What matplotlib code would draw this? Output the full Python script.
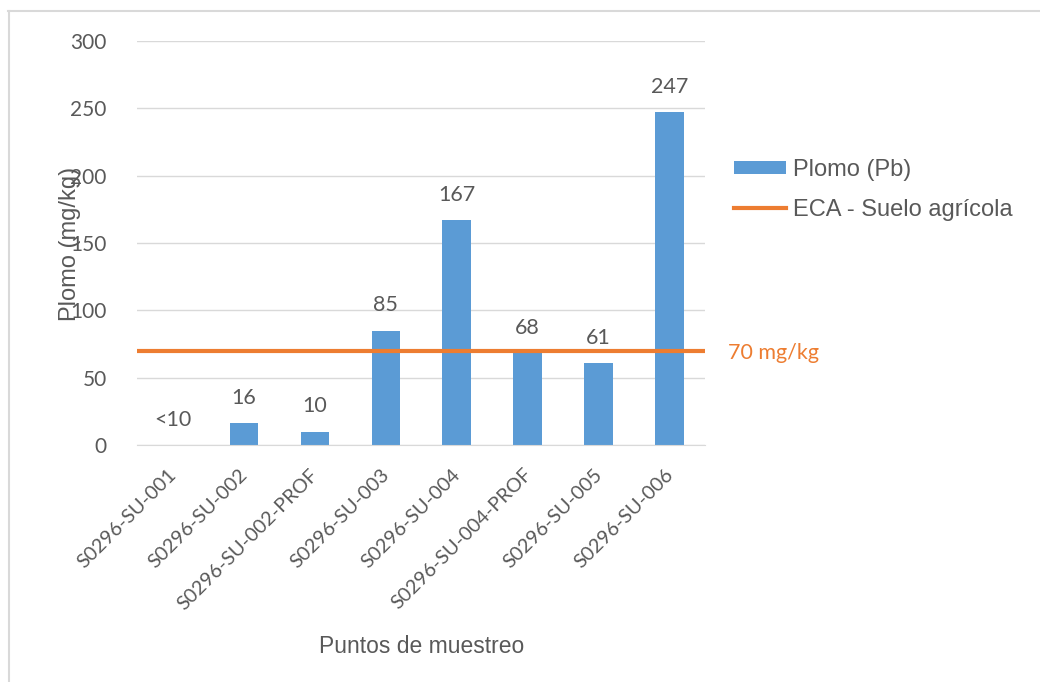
import matplotlib
matplotlib.use("Agg")
import matplotlib.pyplot as plt
import matplotlib.transforms as mtrans
from matplotlib.lines import Line2D
from matplotlib.patches import Patch
import numpy as np

# lead results per sampling point (first one below detection limit)
puntos = ["S0296-SU-001", "S0296-SU-002", "S0296-SU-002-PROF", "S0296-SU-003",
          "S0296-SU-004", "S0296-SU-004-PROF", "S0296-SU-005", "S0296-SU-006"]
plomo = [0, 16, 10, 85, 167, 68, 61, 247]
etiquetas = ["<10", "16", "10", "85", "167", "68", "61", "247"]
eca_limite = 70
y_ticks = [0, 50, 100, 150, 200, 250, 300]

AZUL = "#5B9BD5"
NARANJA = "#ED7D31"
GRIS = "#595959"
GRID = "#D9D9D9"

fig = plt.figure(figsize=(10.4, 6.82), dpi=100)
ax = fig.add_axes([0.132, 0.3475, 0.546, 0.5925])

x = np.arange(len(puntos))
ax.bar(x, plomo, width=0.4, color=AZUL, zorder=2)
ax.axhline(eca_limite, color=NARANJA, lw=3, zorder=3)

for xi, val, txt in zip(x, plomo, etiquetas):
    ax.annotate(txt, (xi, val), xytext=(0, 11), textcoords="offset points",
                ha="center", va="bottom", fontsize=15.5, color=GRIS, family="Lato")

ax.set_xlim(-0.5, len(puntos) - 0.5)
ax.set_ylim(0, 300)
ax.set_yticks(y_ticks)
ax.yaxis.grid(True, color=GRID, lw=1, zorder=0)
ax.set_axisbelow(True)
for s in ["top", "right", "left"]:
    ax.spines[s].set_visible(False)
ax.spines["bottom"].set_color(GRID)
ax.tick_params(axis="both", length=0, colors=GRIS, labelsize=15)
ax.tick_params(axis="y", pad=22)
for t in ax.get_yticklabels():
    t.set_family("Lato")

ax.set_xticks(x)
ax.set_xticklabels(puntos, rotation=45, ha="right", rotation_mode="anchor",
                   family="Lato", fontsize=14.3, color=GRIS)
ax.tick_params(axis="x", pad=15)
# nudge the slanted labels so their ends sit under the bars
shift = mtrans.ScaledTranslation(-5 / 100, 0, fig.dpi_scale_trans)
for t in ax.get_xticklabels():
    t.set_transform(t.get_transform() + shift)

ax.set_xlabel("Puntos de muestreo", fontsize=16.5, color=GRIS,
              family="Liberation Sans", labelpad=16)
fig.text(70 / 1040, 1 - 244 / 682, "Plomo (mg/kg)", rotation=90, ha="center",
         va="center", fontsize=17, color=GRIS, family="Liberation Sans")

fig.text(728 / 1040, 1 - 353 / 682, "70 mg/kg", ha="left", va="center",
         fontsize=15.5, color=NARANJA, family="Lato")

handles = [Patch(facecolor=AZUL, edgecolor="none"),
           Line2D([], [], color=NARANJA, lw=3)]
fig.legend(handles, ["Plomo (Pb)", "ECA - Suelo agrícola"], loc="upper left",
           bbox_to_anchor=(722 / 1040, 1 - 147 / 682), frameon=False,
           labelcolor=GRIS, handlelength=2.2, handleheight=0.45,
           handletextpad=0.3, labelspacing=0.75, borderpad=0,
           prop={"family": "Liberation Sans", "size": 17})

# thin grey frame along top and left edges
fig.add_artist(Line2D([8 / 1040, 1], [1 - 10.5 / 682] * 2, color="#D9D9D9", lw=1.5))
fig.add_artist(Line2D([8.5 / 1040] * 2, [0, 1 - 10.5 / 682], color="#D9D9D9", lw=1.5))

fig.savefig("out.png", dpi=100)
